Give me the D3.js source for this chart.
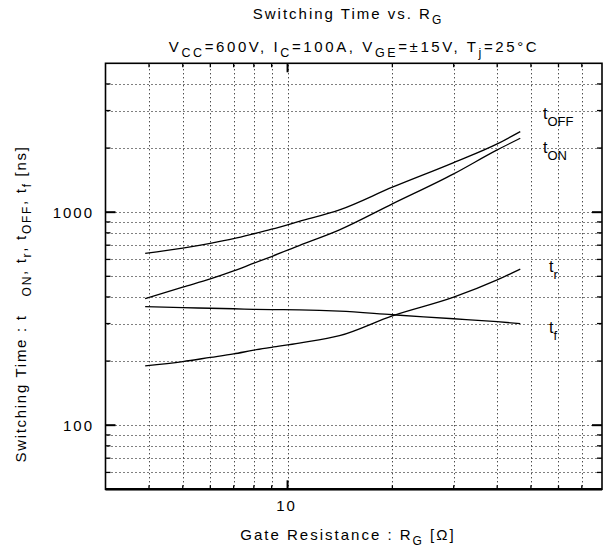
<!DOCTYPE html>
<html><head><meta charset="utf-8">
<script src="https://cdn.jsdelivr.net/npm/d3@7"></script>
<style>body{margin:0;background:#fff}svg{display:block}text{font-family:"Liberation Sans",Arial,sans-serif;fill:#000}</style>
</head><body>
<svg id="c" width="603" height="555"></svg>
<script>
// Data (R_G in ohm, times in ns)
const rg   = [3.9, 5, 6, 7, 8, 9, 10.8, 14.1, 20, 30, 40, 46.6];
const tOFF = [640, 678, 714, 751, 792, 832, 905, 1025, 1310, 1710, 2093, 2390];
const tON  = [393, 445, 486, 530, 576, 619, 697, 826, 1094, 1513, 1961, 2224];
const tR   = [190, 199, 208, 216, 225, 232, 243, 263, 326, 399, 481, 540];
const tF   = [360, 356, 354, 352, 350, 349, 348, 343, 330, 316, 306, 300];
const xTickLabels = [10];
const yTickLabels = [100, 1000];
const xGrid = [4,5,6,7,8,9,10,20,30,40,50,60,70];
const yGrid = [60,70,80,90,100,200,300,400,500,600,700,800,900,1000,2000,3000,4000];
const xMinor = [4,5,6,7,8,9,20,30,40,50,60,70];
const yMinor = [60,70,80,90,200,300,400,500,600,700,800,900,2000,3000,4000];

const svg = d3.select("#c");
const L = 105.5, R = 602, T = 63.3, B = 489.3;
const x = d3.scaleLog().domain([3, 80]).range([L, R]);
const y = d3.scaleLog().domain([50, 5000]).range([B, T]);
const snap = v => Math.round(v) + 0.5;

// grid
const g = svg.append("g");
g.selectAll(".gx").data(xGrid).join("line")
  .attr("x1", d => snap(x(d))).attr("x2", d => snap(x(d))).attr("y1", T + 2).attr("y2", B)
  .attr("stroke", "#000").attr("stroke-width", 1).attr("stroke-dasharray", "1,3");
g.selectAll(".gy").data(yGrid).join("line")
  .attr("y1", d => snap(y(d))).attr("y2", d => snap(y(d))).attr("x1", L + 2).attr("x2", R)
  .attr("stroke", "#000").attr("stroke-width", 1).attr("stroke-dasharray", "1,3");

// ticks (inward)
const tk = svg.append("g").attr("stroke", "#000").attr("stroke-width", 1.3);
xMinor.forEach(v => {
  tk.append("line").attr("x1", x(v)).attr("x2", x(v)).attr("y1", B).attr("y2", B - 4);
  tk.append("line").attr("x1", x(v)).attr("x2", x(v)).attr("y1", T).attr("y2", T + 4);
});
xTickLabels.forEach(v => {
  tk.append("line").attr("x1", x(v)).attr("x2", x(v)).attr("y1", B).attr("y2", B - 9).attr("stroke-width", 2);
  tk.append("line").attr("x1", x(v)).attr("x2", x(v)).attr("y1", T).attr("y2", T + 9).attr("stroke-width", 2);
});
yMinor.forEach(v => {
  tk.append("line").attr("y1", y(v)).attr("y2", y(v)).attr("x1", L).attr("x2", L + 5);
  tk.append("line").attr("y1", y(v)).attr("y2", y(v)).attr("x1", R).attr("x2", R - 5);
});
yTickLabels.forEach(v => {
  tk.append("line").attr("y1", y(v)).attr("y2", y(v)).attr("x1", L).attr("x2", L + 10).attr("stroke-width", 2);
  tk.append("line").attr("y1", y(v)).attr("y2", y(v)).attr("x1", R).attr("x2", R - 10).attr("stroke-width", 2);
});

// frame
svg.append("rect").attr("x", L).attr("y", T).attr("width", R - L).attr("height", B - T)
  .attr("fill", "none").attr("stroke", "#000").attr("stroke-width", 1.6);
svg.append("line").attr("x1", L).attr("x2", R).attr("y1", B).attr("y2", B).attr("stroke", "#000").attr("stroke-width", 2.4);

// tick labels
svg.selectAll(".xl").data(xTickLabels).join("text")
  .attr("x", d => x(d) - 1).attr("y", 511).attr("text-anchor", "middle")
  .attr("font-size", 15).attr("letter-spacing", 2).text(d => d);
svg.selectAll(".yl").data(yTickLabels).join("text")
  .attr("x", 94).attr("y", d => y(d) + 5.5).attr("text-anchor", "end")
  .attr("font-size", 15).attr("letter-spacing", 2).text(d => d);

// curves
const line = d3.line().x(d => x(d[0])).y(d => y(d[1])).curve(d3.curveMonotoneX);
[tOFF, tON, tR, tF].forEach(s => {
  svg.append("path").datum(rg.map((r, i) => [r, s[i]])).attr("d", line)
    .attr("fill", "none").attr("stroke", "#000").attr("stroke-width", 1.3);
});

function addText(xp, yp, parts, opts) {
  const t = svg.append("text").attr("x", xp).attr("y", yp).attr("font-size", opts.fs)
    .attr("letter-spacing", opts.ls || 0).attr("text-anchor", opts.anchor || "start");
  if (opts.rotate) t.attr("transform", `rotate(-90,${xp},${yp})`);
  parts.forEach(p => {
    if (typeof p === "string") t.append("tspan").text(p);
    else {
      const sp = t.append("tspan").attr("font-size", opts.sfs).attr("baseline-shift", -(opts.sdy)).text(p.s);
      if (p.dx) sp.attr("dx", p.dx);
    }
  });
  return t;
}

// titles
addText(348, 19, ["Switching Time vs. R", {s: "G"}], {fs: 15, sfs: 12, sdy: 5, ls: 2, anchor: "middle"});
addText(354, 52, ["V", {s: "CC"}, "=600V, I", {s: "C"}, "=100A, V", {s: "GE"}, "=\u00b115V, T", {s: "j"}, "=25\u00b0C"],
  {fs: 15, sfs: 12.5, sdy: 5, ls: 2.6, anchor: "middle"});
addText(348, 540, ["Gate Resistance : R", {s: "G"}, " [\u03a9]"], {fs: 15, sfs: 12, sdy: 5, ls: 2, anchor: "middle"});
addText(26, 304, ["Switching Time : t", {s: "ON", dx: 18}, ", t", {s: "r"}, ", t", {s: "OFF"}, ", t", {s: "f"}, " [ns]"],
  {fs: 15, sfs: 12, sdy: 5, ls: 1.7, anchor: "middle", rotate: true});

// curve labels
addText(543, 119, ["t", {s: "OFF"}], {fs: 16, sfs: 13, sdy: 7});
addText(543, 153, ["t", {s: "ON"}], {fs: 16, sfs: 13, sdy: 7});
addText(549, 272, ["t", {s: "r"}], {fs: 16, sfs: 13, sdy: 7});
addText(549, 333, ["t", {s: "f"}], {fs: 16, sfs: 13, sdy: 7});
</script>
</body></html>
